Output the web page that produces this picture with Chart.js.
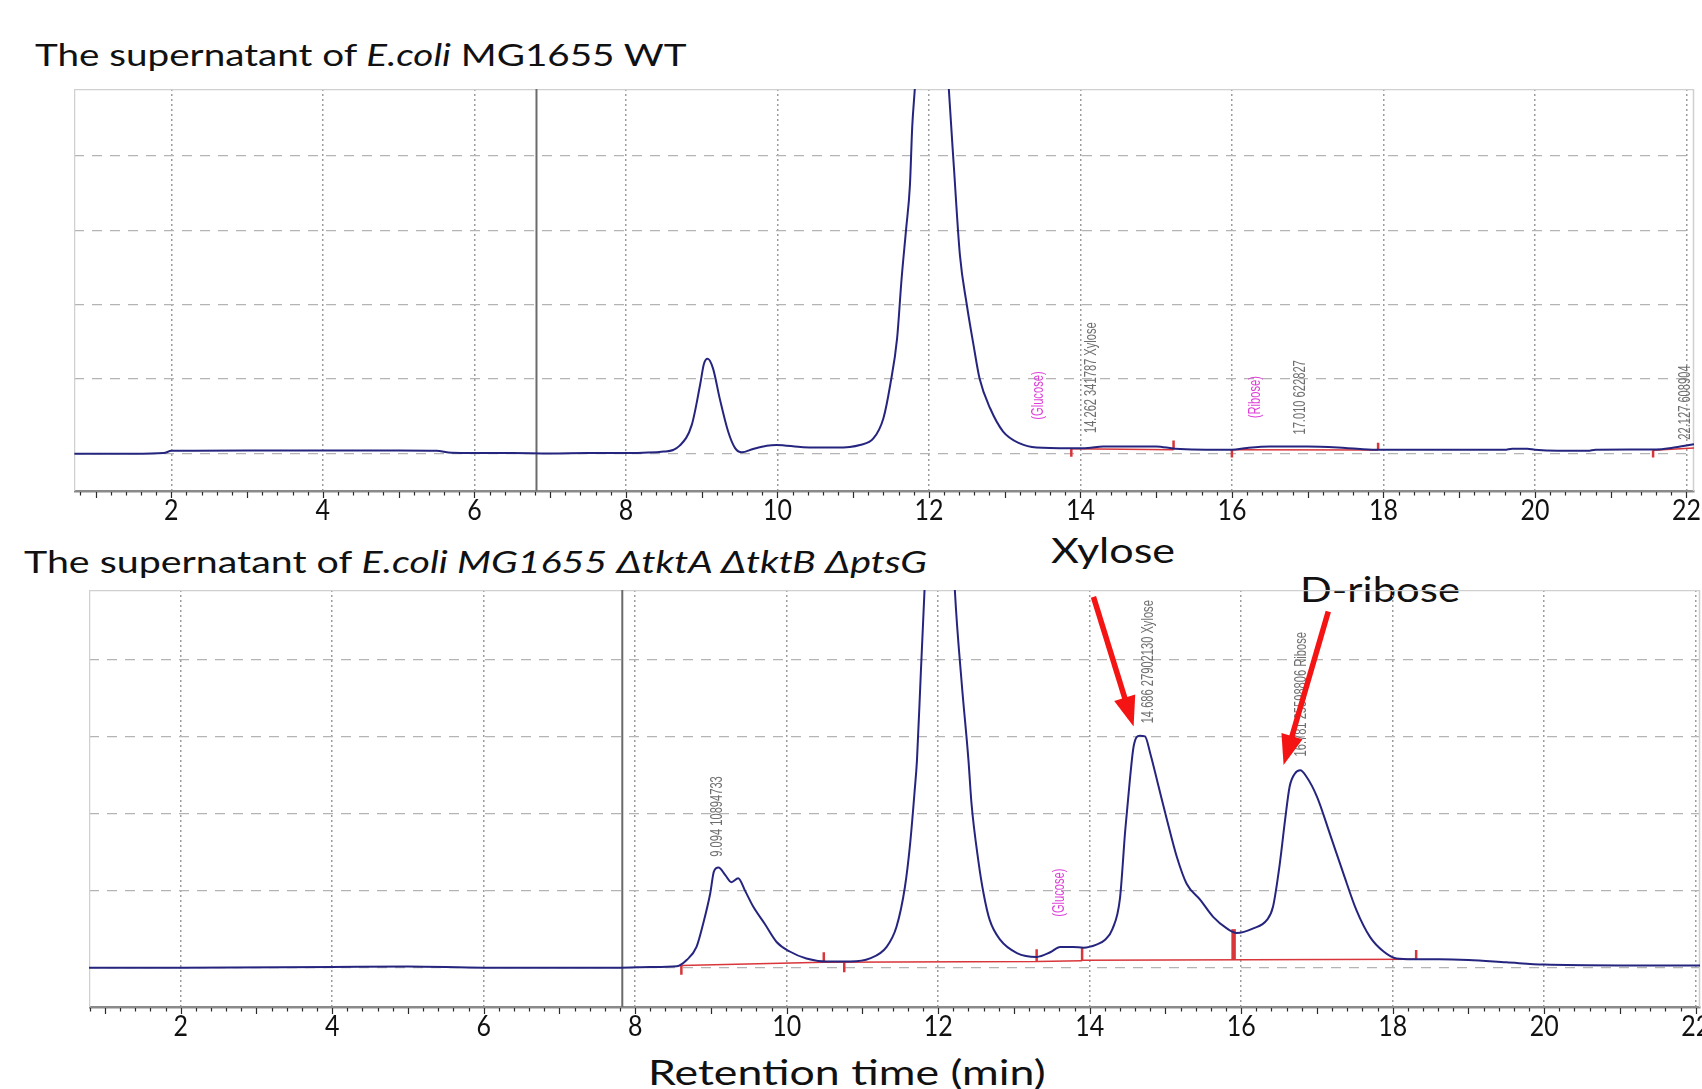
<!DOCTYPE html>
<html>
<head>
<meta charset="utf-8">
<title>HPLC chromatograms – E. coli MG1655 supernatants</title>
<script src="https://cdn.jsdelivr.net/npm/chart.js@4.4.1/dist/chart.umd.min.js"></script>
<style>
  html, body { margin: 0; padding: 0; background: #fff; }
  body { width: 1702px; height: 1089px; position: relative; overflow: hidden; }
  .panel { position: absolute; }
  .txt { position: absolute; white-space: nowrap; font-family: Lato, "Open Sans", sans-serif;
         color: #111; line-height: 1; transform-origin: 0 0; }
</style>
</head>
<body>

<div class="txt" data-l="34.5" data-r="686" data-b="66" style="font-size:31px">The supernatant of <i>E.coli</i> MG1655 WT</div>
<div class="txt" data-l="23.6" data-r="926" data-b="572.5" style="font-size:31px">The supernatant of <i>E.coli MG1655 ΔtktA ΔtktB ΔptsG</i></div>
<div class="txt" data-l="1051" data-r="1175" data-b="563" style="font-size:34px">Xylose</div>
<div class="txt" data-l="1300" data-r="1460" data-b="602" style="font-size:34px">D-ribose</div>
<div class="txt" data-l="648" data-r="1046" data-b="1085" style="font-size:34px">Retention time (min)</div>

<div class="panel" style="left:74px;top:89px;width:1628px;height:447px"><canvas id="wtChart"></canvas></div>
<div class="panel" style="left:89px;top:590px;width:1613px;height:462px"><canvas id="mutChart"></canvas></div>

<script>
// ---- axis ticks ----
const xTickValues = [2, 4, 6, 8, 10, 12, 14, 16, 18, 20, 22];
const xTickLabels = ['2', '4', '6', '8', '10', '12', '14', '16', '18', '20', '22'];
const yGridValues = [0, 1, 2, 3, 4];

// ---- MG1655 WT trace (retention time in min, detector response) ----
const wtTime = [0.72, 1.5, 1.9, 2.0, 3.0, 4.0, 5.0, 5.5, 5.7, 6.5, 7.0, 7.5, 8.0, 8.5, 8.71, 8.87, 8.98, 9.03,
  9.08, 9.15, 9.24, 9.35, 9.44, 9.53, 9.68, 9.86, 9.99, 10.34, 10.78, 11.09, 11.27, 11.40, 11.49, 11.58,
  11.64, 11.70, 11.75, 11.78, 11.82, 11.90, 12.00, 12.05, 12.12, 12.20, 12.26, 12.33, 12.41, 12.50,
  12.59, 12.67, 12.81, 12.98, 13.20, 13.42, 13.86, 14.10, 14.30, 15.00, 15.25, 16.00, 16.20, 16.50, 17.00,
  17.50, 17.90, 18.50, 19.60, 19.70, 19.90, 20.00, 20.30, 20.70, 20.80, 21.60, 21.80, 22.10];
const wtSignal = [-0.01, -0.01, 0.0, 0.03, 0.035, 0.035, 0.035, 0.03, 0.005, 0.0, -0.005, 0.0, 0.0, 0.02, 0.10, 0.38, 0.92, 1.20,
  1.27, 1.14, 0.73, 0.29, 0.07, 0.01, 0.056, 0.10, 0.11, 0.08, 0.075, 0.11, 0.20, 0.47, 0.92, 1.54,
  2.35, 3.02, 3.61, 4.39, 5.0, 6.8, 8.2, 8.4, 7.9, 6.1, 4.95, 3.85, 2.66, 2.0,
  1.45, 1.0, 0.60, 0.29, 0.13, 0.075, 0.066, 0.07, 0.09, 0.09, 0.06, 0.045, 0.07, 0.09, 0.09,
  0.07, 0.045, 0.045, 0.045, 0.06, 0.06, 0.045, 0.03, 0.03, 0.045, 0.05, 0.07, 0.12];

// ---- MG1655 ΔtktA ΔtktB ΔptsG trace ----
const mutTime = [0.79, 2.0, 4.0, 5.0, 6.0, 7.0, 7.8, 8.2, 8.55, 8.68, 8.81, 8.90, 8.99, 9.04, 9.10, 9.19, 9.27,
  9.36, 9.45, 9.56, 9.71, 9.87, 10.04, 10.26, 10.53, 10.84, 11.10, 11.32, 11.45, 11.56, 11.63, 11.69, 11.72,
  11.77, 11.82, 11.90, 12.00, 12.05, 12.12, 12.22, 12.31, 12.40, 12.44, 12.53, 12.60, 12.68, 12.82, 13.04,
  13.30, 13.48, 13.61, 13.78, 13.92, 14.09, 14.20, 14.30, 14.40, 14.47, 14.53, 14.58, 14.66, 14.73, 14.80,
  14.91, 15.02, 15.15, 15.28, 15.46, 15.63, 15.81, 15.94, 16.16, 16.34, 16.42, 16.51, 16.58, 16.64, 16.71,
  16.78, 16.86, 17.00, 17.17, 17.35, 17.52, 17.70, 17.88, 18.05, 18.27, 18.62, 19.0, 19.5, 20.0, 21.0, 22.06];
const mutSignal = [0.0, 0.0, 0.01, 0.015, 0.0, 0.0, 0.0, 0.01, 0.02, 0.10, 0.27, 0.58, 0.96, 1.25, 1.30, 1.20, 1.11,
  1.16, 1.00, 0.79, 0.57, 0.33, 0.21, 0.12, 0.08, 0.08, 0.12, 0.27, 0.53, 1.04, 1.61, 2.30, 2.69,
  3.8, 4.9, 6.6, 7.8, 7.9, 7.2, 4.9, 3.7, 2.69, 2.13, 1.39, 0.96, 0.62, 0.36, 0.19,
  0.14, 0.20, 0.27, 0.27, 0.26, 0.30, 0.36, 0.50, 0.90, 1.79, 2.43, 2.87, 3.01, 3.00, 2.78,
  2.35, 1.92, 1.44, 1.09, 0.88, 0.66, 0.51, 0.45, 0.51, 0.62, 0.79, 1.35, 1.92, 2.35, 2.52,
  2.56, 2.48, 2.22, 1.74, 1.22, 0.75, 0.40, 0.21, 0.12, 0.11, 0.11, 0.10, 0.07, 0.04, 0.03, 0.03];

// ---- integration baselines: [t0, y0, t1, y1] and tick marks: [t, yFrom, yTo] ----
const wtBaselines = [[13.88, 0.06, 15.23, 0.044], [16.0, 0.045, 17.93, 0.042], [21.56, 0.04, 22.1, 0.07]];
const wtBaseTicks = [[13.88, 0.06, -0.05], [15.23, 0.044, 0.17], [16.0, 0.045, -0.06], [17.93, 0.042, 0.14], [21.56, 0.04, -0.06]];
const mutBaselines = [[8.61, 0.03, 10.49, 0.07], [10.49, 0.07, 13.30, 0.08], [13.30, 0.08, 13.90, 0.09], [13.90, 0.095, 18.31, 0.11]];
const mutBaseTicks = [[8.61, 0.03, -0.09], [10.49, 0.07, 0.20], [10.76, 0.07, -0.06], [13.30, 0.08, 0.24], [13.90, 0.09, 0.26], [18.31, 0.11, 0.23]];
const mutDropLines = [[15.90, 0.10, 0.50]];

// ---- injection markers (min) ----
const wtMarker = 6.82;
const mutMarker = 7.83;

// ---- peak annotations: [text, t, start level, kind] ----
const wtPeakLabels = [
  ['(Glucose)', 13.44, 0.45, 'ref'],
  ['14.262 341787 Xylose', 14.15, 0.27, 'id'],
  ['(Ribose)', 16.31, 0.47, 'ref'],
  ['17.010 622827', 16.90, 0.25, 'id'],
  ['22.127 608904', 21.98, 0.18, 'id']
];
const mutPeakLabels = [
  ['9.094 10894733', 9.08, 1.44, 'id'],
  ['(Glucose)', 13.60, 0.66, 'ref'],
  ['14.686 27902130 Xylose', 14.77, 3.17, 'id'],
  ['16.781 25598806 Ribose', 16.80, 2.74, 'id']
];

// ---- pointer arrows: [t0, y0, t1 (tip), y1 (tip)] ----
const mutArrows = [[14.05, 4.81, 14.58, 3.13], [17.15, 4.62, 16.56, 2.63]];

// ---------------------------------------------------------------------------
const TRACE = '#25257f';
const BASE_RED = '#d8363a';
const LABEL_COLORS = { id: '#6e6e6e', ref: '#dd3fd8' };

function gapped(list, build) {
  const pts = [];
  list.forEach(item => { build(item).forEach(p => pts.push(p)); pts.push({ x: pts[pts.length - 1].x, y: null }); });
  return pts;
}

function makeChart(canvasId, cfg) {
  const trace = cfg.time.map((t, i) => ({ x: t, y: cfg.signal[i] }));
  const base = gapped(cfg.baselines, ([a, b, c, d]) => [{ x: a, y: b }, { x: c, y: d }]);
  const ticks = gapped(cfg.baseTicks, ([t, a, b]) => [{ x: t, y: a }, { x: t, y: b }]);
  const drops = gapped(cfg.drops, ([t, a, b]) => [{ x: t, y: a }, { x: t, y: b }]);
  const marker = [{ x: cfg.marker, y: cfg.ymin }, { x: cfg.marker, y: cfg.ymax }];

  const lineBase = { pointRadius: 0, fill: false, tension: 0, spanGaps: false };

  const framePlugin = {
    id: 'frame',
    beforeDatasetsDraw(chart) {
      const { ctx, chartArea: a } = chart;
      ctx.save();
      ctx.strokeStyle = '#d0d0d0';
      ctx.lineWidth = 1.5;
      ctx.beginPath();
      ctx.moveTo(a.left + 0.5, a.bottom);
      ctx.lineTo(a.left + 0.5, a.top + 0.5);
      ctx.lineTo(a.right - 0.5, a.top + 0.5);
      ctx.lineTo(a.right - 0.5, a.bottom);
      ctx.stroke();
      ctx.restore();
    }
  };

  const annotatePlugin = {
    id: 'annotate',
    afterDatasetsDraw(chart) {
      const { ctx } = chart;
      const xs = chart.scales.x, ys = chart.scales.y;
      ctx.save();
      ctx.font = '17px "Liberation Sans", Arial, sans-serif';
      ctx.textAlign = 'left';
      ctx.textBaseline = 'middle';
      cfg.peakLabels.forEach(([text, t, lvl, kind]) => {
        ctx.save();
        ctx.translate(xs.getPixelForValue(t), ys.getPixelForValue(lvl));
        ctx.rotate(-Math.PI / 2);
        ctx.scale(0.655, 1);
        ctx.fillStyle = LABEL_COLORS[kind];
        ctx.fillText(text, 0, 0);
        ctx.restore();
      });
      // red pointer arrows
      ctx.strokeStyle = '#f41414';
      ctx.fillStyle = '#f41414';
      ctx.lineWidth = 5.5;
      ctx.lineCap = 'butt';
      cfg.arrows.forEach(([t0, v0, t1, v1]) => {
        const x0 = xs.getPixelForValue(t0), y0 = ys.getPixelForValue(v0);
        const x1 = xs.getPixelForValue(t1), y1 = ys.getPixelForValue(v1);
        const len = Math.hypot(x1 - x0, y1 - y0);
        const ux = (x1 - x0) / len, uy = (y1 - y0) / len;
        const nx = -uy, ny = ux;
        const head = 30, half = 11;
        ctx.beginPath();
        ctx.moveTo(x0, y0);
        ctx.lineTo(x1 - ux * (head - 4), y1 - uy * (head - 4));
        ctx.stroke();
        ctx.beginPath();
        ctx.moveTo(x1, y1);
        ctx.lineTo(x1 - ux * head + nx * half, y1 - uy * head + ny * half);
        ctx.lineTo(x1 - ux * head - nx * half, y1 - uy * head - ny * half);
        ctx.closePath();
        ctx.fill();
      });
      ctx.restore();
    }
  };

  const axisPlugin = {
    id: 'timeAxis',
    afterDraw(chart) {
      const { ctx, chartArea: a } = chart;
      const xs = chart.scales.x;
      ctx.save();
      // minor ticks every 0.2 min, longer ones every minute
      ctx.strokeStyle = '#2a2a2a';
      ctx.lineWidth = 1.2;
      ctx.beginPath();
      for (let k = Math.ceil(xs.min * 5); k <= Math.floor(xs.max * 5); k++) {
        const px = Math.round(xs.getPixelForValue(k / 5)) + 0.5;
        const len = (k % 5 === 0) ? 6 : 3.5;
        ctx.moveTo(px, a.bottom + 1);
        ctx.lineTo(px, a.bottom + 1 + len);
      }
      ctx.stroke();
      // tick labels
      ctx.fillStyle = '#111';
      ctx.font = '29px Lato, "Open Sans", sans-serif';
      ctx.textAlign = 'center';
      ctx.textBaseline = 'alphabetic';
      xTickValues.forEach((v, i) => {
        ctx.save();
        ctx.translate(xs.getPixelForValue(v), a.bottom + cfg.labelDrop);
        ctx.scale(0.86, 1);
        ctx.fillText(xTickLabels[i], 0, 0);
        ctx.restore();
      });
      ctx.restore();
    }
  };

  return new Chart(document.getElementById(canvasId), {
    type: 'line',
    data: {
      datasets: [
        Object.assign({ data: trace, borderColor: TRACE, borderWidth: 2, cubicInterpolationMode: 'monotone' }, lineBase, { tension: 0.3 }),
        Object.assign({ data: base, borderColor: BASE_RED, borderWidth: 1.5 }, lineBase),
        Object.assign({ data: ticks, borderColor: BASE_RED, borderWidth: 2.5 }, lineBase),
        Object.assign({ data: drops, borderColor: BASE_RED, borderWidth: 4.5 }, lineBase),
        Object.assign({ data: marker, borderColor: '#6b6b6b', borderWidth: 2 }, lineBase)
      ]
    },
    options: {
      responsive: true,
      maintainAspectRatio: false,
      animation: false,
      events: [],
      layout: { padding: { left: 0, right: cfg.padRight, top: 0, bottom: 0 } },
      plugins: { legend: { display: false }, tooltip: { enabled: false }, title: { display: false } },
      scales: {
        x: {
          type: 'linear', min: cfg.xmin, max: cfg.xmax,
          afterBuildTicks: s => { s.ticks = xTickValues.map(v => ({ value: v })); },
          afterFit: s => { s.height = cfg.axisH; },
          ticks: { display: false },
          grid: { color: '#9c9c9c', lineWidth: 1.5, drawTicks: false },
          border: { display: true, color: '#8a8a8a', width: 2.5, dash: [2, 3] }
        },
        y: {
          type: 'linear', min: cfg.ymin, max: cfg.ymax,
          afterBuildTicks: s => { s.ticks = yGridValues.map(v => ({ value: v })); },
          afterFit: s => { s.width = 0; },
          ticks: { display: false },
          grid: { color: '#b4b4b4', lineWidth: 1.2, drawTicks: false },
          border: { display: false, dash: [10, 8] }
        }
      }
    },
    plugins: [framePlugin, annotatePlugin, axisPlugin]
  });
}

makeChart('wtChart', {
  time: wtTime, signal: wtSignal, baselines: wtBaselines, baseTicks: wtBaseTicks, drops: [],
  marker: wtMarker, peakLabels: wtPeakLabels, arrows: [],
  xmin: 0.715, xmax: 22.10, ymin: -0.51, ymax: 4.9, padRight: 8, axisH: 45, labelDrop: 29
});

makeChart('mutChart', {
  time: mutTime, signal: mutSignal, baselines: mutBaselines, baseTicks: mutBaseTicks, drops: mutDropLines,
  marker: mutMarker, peakLabels: mutPeakLabels, arrows: mutArrows,
  xmin: 0.79, xmax: 22.057, ymin: -0.51, ymax: 4.9, padRight: 2, axisH: 45, labelDrop: 28.5
});

// place the page texts: left edge, right edge and baseline in page pixels
document.querySelectorAll('.txt').forEach(el => {
  const probe = document.createElement('span');
  probe.style.cssText = 'display:inline-block;width:0;height:0;vertical-align:baseline';
  el.appendChild(probe);
  const l = parseFloat(el.dataset.l), r = parseFloat(el.dataset.r), b = parseFloat(el.dataset.b);
  const w = el.offsetWidth;
  el.style.left = l + 'px';
  el.style.top = (b - probe.offsetTop) + 'px';
  el.style.transform = 'scaleX(' + ((r - l) / w).toFixed(4) + ')';
});
</script>
</body>
</html>
